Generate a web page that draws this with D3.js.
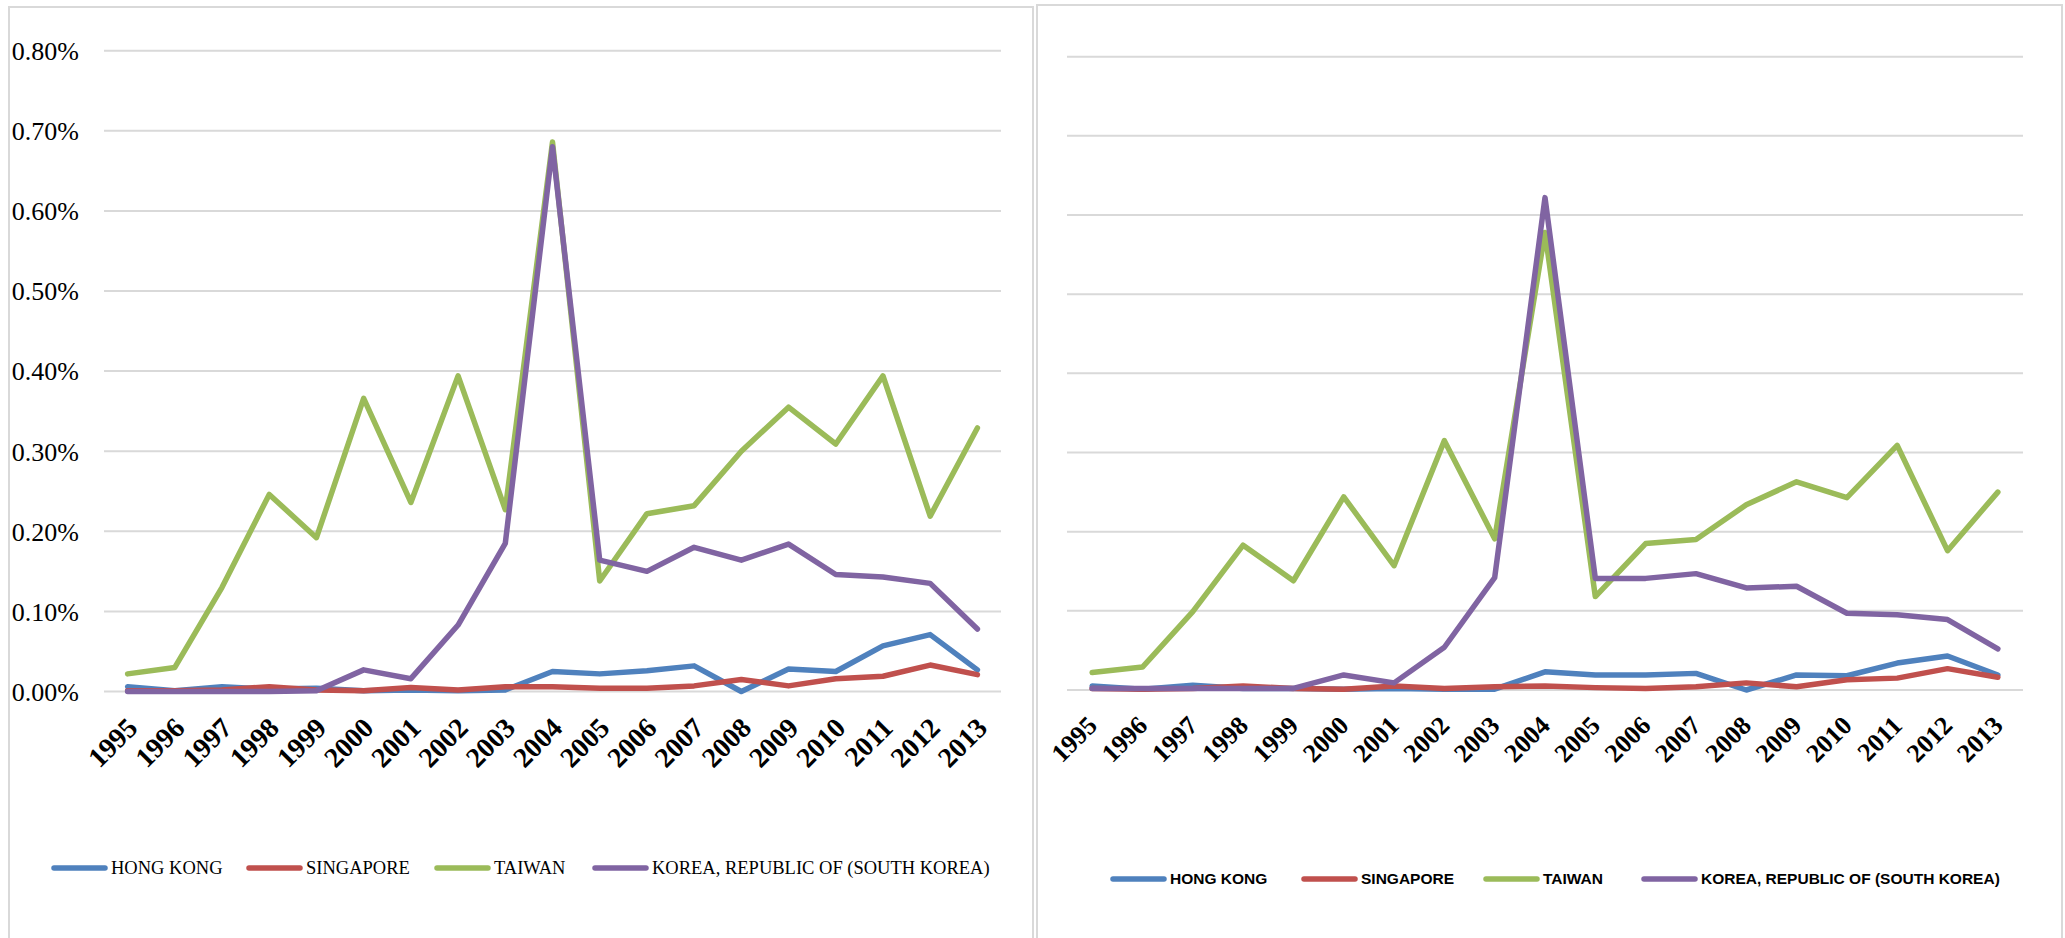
<!DOCTYPE html>
<html><head><meta charset="utf-8">
<script src="https://cdn.jsdelivr.net/npm/d3@7"></script>
<style>body{margin:0;background:#fff;}svg{display:block}</style>
</head><body>
<svg id="chart" width="2065" height="938"></svg>
<script>
// ---------- DATA ----------
const years = ["1995","1996","1997","1998","1999","2000","2001","2002","2003","2004","2005","2006","2007","2008","2009","2010","2011","2012","2013"];
const seriesNames = ["HONG KONG","SINGAPORE","TAIWAN","KOREA, REPUBLIC OF (SOUTH KOREA)"];
const yTickValues = [0, 0.1, 0.2, 0.3, 0.4, 0.5, 0.6, 0.7, 0.8]; // percent

// Left chart (values in %)
const leftHongKong  = [0.006,0.001,0.006,0.003,0.004,0.001,0.002,0.001,0.002,0.025,0.022,0.026,0.032,0.000,0.028,0.025,0.057,0.071,0.027];
const leftSingapore = [0.001,0.001,0.002,0.006,0.002,0.001,0.005,0.002,0.006,0.006,0.004,0.004,0.007,0.015,0.007,0.016,0.019,0.033,0.021];
const leftTaiwan    = [0.022,0.030,0.130,0.246,0.192,0.366,0.236,0.394,0.227,0.686,0.138,0.222,0.232,0.300,0.355,0.309,0.394,0.219,0.329];
const leftKorea     = [0.000,0.000,0.000,0.000,0.001,0.027,0.016,0.083,0.185,0.680,0.164,0.150,0.180,0.164,0.184,0.146,0.143,0.135,0.078];

// Right chart (values in %)
const rightHongKong  = [0.005,0.001,0.006,0.002,0.002,0.001,0.002,0.001,0.001,0.023,0.019,0.019,0.021,0.000,0.019,0.018,0.034,0.043,0.019];
const rightSingapore = [0.002,0.001,0.002,0.005,0.002,0.001,0.005,0.002,0.004,0.005,0.003,0.002,0.004,0.009,0.004,0.013,0.015,0.027,0.016];
const rightTaiwan    = [0.022,0.029,0.099,0.183,0.138,0.244,0.157,0.315,0.191,0.578,0.118,0.185,0.190,0.234,0.263,0.243,0.309,0.176,0.250];
const rightKorea     = [0.002,0.002,0.002,0.002,0.002,0.019,0.009,0.054,0.142,0.622,0.141,0.141,0.147,0.129,0.131,0.097,0.095,0.089,0.052];

// ---------- STYLE / LAYOUT ----------
const colors = ["#4F81BD","#C0504D","#9BBB59","#8064A2"];
const svg = d3.select("#chart");

const panels = [
  {
    series: [leftHongKong, leftSingapore, leftTaiwan, leftKorea],
    box: {x:9, y:7, w:1024, h:945},
    xr: [104, 1001], yr: [691.5, 50.7],
    yLabels: true, yLabelX: 79, yFont: "26px 'Liberation Serif', 'Times New Roman', serif",
    xFont: "bold 28px 'Liberation Serif', 'Times New Roman', serif", xOff: [11, 38],
    legendY: 868, legendX: [52, 247, 435, 593], legendLen: 55,
    legendFont: "18.5px 'Liberation Serif', 'Times New Roman', serif"
  },
  {
    series: [rightHongKong, rightSingapore, rightTaiwan, rightKorea],
    box: {x:1037, y:5, w:1025, h:945},
    xr: [1067, 2023], yr: [690, 56.7],
    yLabels: false,
    xFont: "bold 26px 'Liberation Serif', 'Times New Roman', serif", xOff: [6, 37],
    legendY: 879, legendX: [1111, 1302, 1484, 1642], legendLen: 55,
    legendFont: "bold 15.5px 'Liberation Sans', Arial, sans-serif"
  }
];

panels.forEach(p => {
  const g = svg.append("g");
  g.append("rect").attr("x", p.box.x).attr("y", p.box.y).attr("width", p.box.w).attr("height", p.box.h)
    .attr("fill", "#fff").attr("stroke", "#D9D9D9").attr("stroke-width", 2);

  const x = d3.scalePoint().domain(years).range(p.xr).padding(0.5);
  const y = d3.scaleLinear().domain([0, 0.8]).range(p.yr);

  // gridlines
  g.append("g").selectAll("line").data(yTickValues).join("line")
    .attr("x1", p.xr[0]).attr("x2", p.xr[1])
    .attr("y1", d => y(d)).attr("y2", d => y(d))
    .attr("stroke", "#D9D9D9").attr("stroke-width", 2);

  // y labels
  if (p.yLabels) {
    const ya = d3.axisLeft(y).tickValues(yTickValues).tickSize(0).tickPadding(0)
      .tickFormat(d => d.toFixed(2) + "%");
    const yg = g.append("g").attr("transform", `translate(${p.yLabelX},0)`).call(ya);
    yg.select(".domain").remove();
    yg.selectAll("text").style("font", p.yFont).attr("fill", "#000").attr("dy", "0.34em");
  }

  // x labels
  const xa = d3.axisBottom(x).tickSize(0).tickPadding(0);
  const xg = g.append("g").attr("transform", `translate(0,${p.yr[0]})`).call(xa);
  xg.select(".domain").remove();
  xg.selectAll("text")
    .style("font", p.xFont).attr("fill", "#000")
    .attr("y", 0).attr("dy", 0).attr("text-anchor", "end")
    .attr("transform", `translate(${p.xOff[0]},${p.xOff[1]}) rotate(-45)`);

  // lines
  const line = d3.line().x((d, i) => x(years[i])).y(d => y(d));
  p.series.forEach((s, k) => {
    g.append("path").datum(s).attr("d", line)
      .attr("fill", "none").attr("stroke", colors[k]).attr("stroke-width", 5.5)
      .attr("stroke-linejoin", "round").attr("stroke-linecap", "round");
  });

  // legend
  const lg = g.append("g");
  seriesNames.forEach((name, k) => {
    const lx = p.legendX[k];
    lg.append("line").attr("x1", lx + 2).attr("x2", lx + p.legendLen - 2)
      .attr("y1", p.legendY).attr("y2", p.legendY)
      .attr("stroke", colors[k]).attr("stroke-width", 5.5).attr("stroke-linecap", "round");
    lg.append("text").attr("x", lx + p.legendLen + 4).attr("y", p.legendY).attr("dy", "0.35em")
      .style("font", p.legendFont).attr("fill", "#000").text(name);
  });
});
</script>
</body></html>
